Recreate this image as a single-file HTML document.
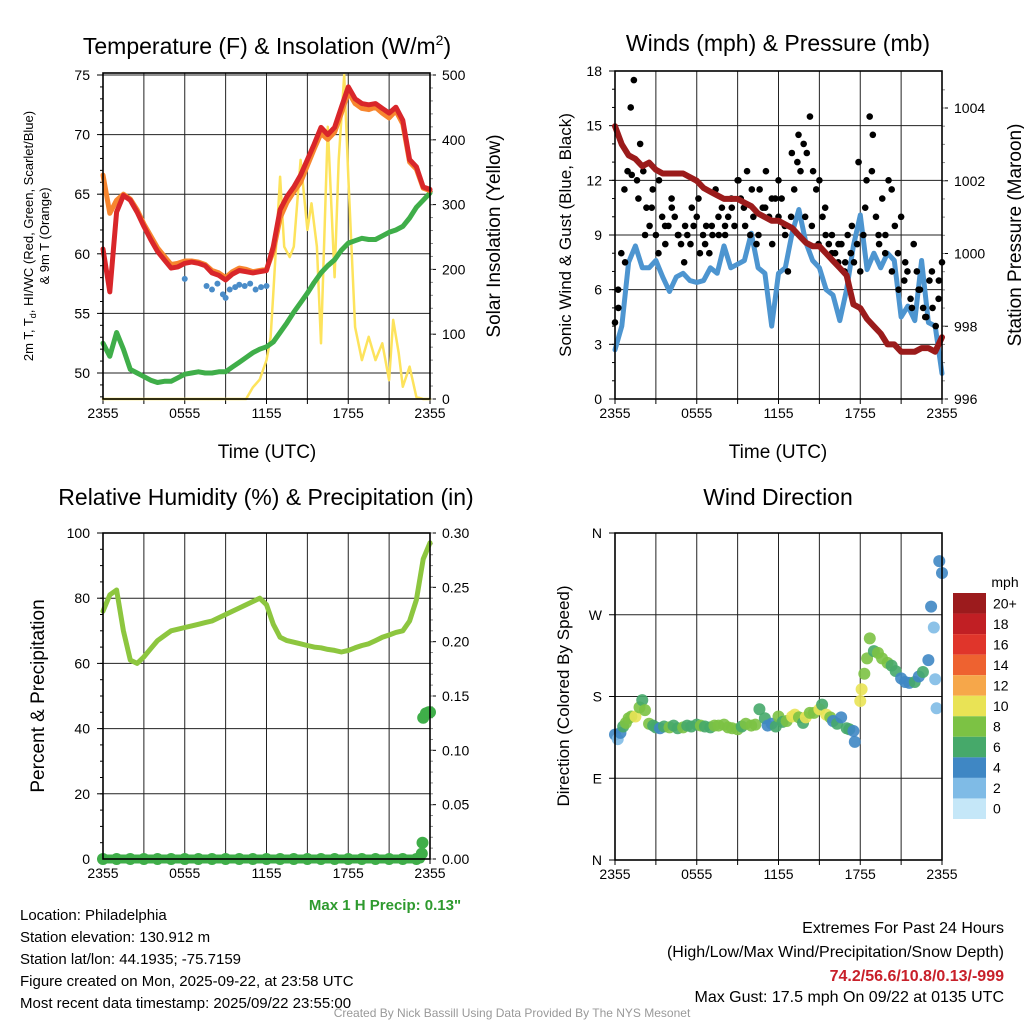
<!DOCTYPE html>
<html><head><meta charset="utf-8"><style>
html,body{margin:0;padding:0;background:#fff}
svg{display:block;font-family:"Liberation Sans",Arial,sans-serif}
</style></head><body>
<svg id="s" width="1024" height="1024" viewBox="0 0 1024 1024" xmlns="http://www.w3.org/2000/svg">
<rect width="1024" height="1024" fill="#fff"/>
<g id="g"></g>
<text x="267" y="54" font-size="23" text-anchor="middle">Temperature (F) &amp; Insolation (W/m<tspan dy="-9" font-size="14">2</tspan><tspan dy="9">)</tspan></text>
<text x="778" y="51" font-size="23" text-anchor="middle">Winds (mph) &amp; Pressure (mb)</text>
<text x="266" y="505" font-size="23" text-anchor="middle">Relative Humidity (%) &amp; Precipitation (in)</text>
<text x="778" y="505" font-size="23" text-anchor="middle">Wind Direction</text>
<text x="267" y="458" font-size="19" text-anchor="middle">Time (UTC)</text>
<text x="778" y="458" font-size="19" text-anchor="middle">Time (UTC)</text>
<text transform="translate(41,236) rotate(-90)" font-size="13" text-anchor="middle"><tspan x="0" dy="-8">2m T, T<tspan font-size="9" dy="3">d</tspan><tspan dy="-3">, HI/WC (Red, Green, Scarlet/Blue)</tspan></tspan><tspan x="0" dy="16">&amp; 9m T (Orange)</tspan></text>
<text transform="translate(500,236) rotate(-90)" font-size="19" text-anchor="middle">Solar Insolation (Yellow)</text>
<text transform="translate(571,235) rotate(-90)" font-size="17" text-anchor="middle">Sonic Wind &amp; Gust (Blue, Black)</text>
<text transform="translate(1021,235) rotate(-90)" font-size="19" text-anchor="middle">Station Pressure (Maroon)</text>
<text transform="translate(44,696) rotate(-90)" font-size="19" text-anchor="middle">Percent &amp; Precipitation</text>
<text transform="translate(569,696) rotate(-90)" font-size="17" text-anchor="middle">Direction (Colored By Speed)</text>
<text x="1005" y="587" font-size="14" text-anchor="middle">mph</text>
<text x="385" y="910" font-size="15" font-weight="bold" fill="#2e9a2e" text-anchor="middle">Max 1 H Precip: 0.13"</text>
<g font-size="15">
<text x="20" y="920">Location: Philadelphia</text>
<text x="20" y="942">Station elevation: 130.912 m</text>
<text x="20" y="964">Station lat/lon: 44.1935; -75.7159</text>
<text x="20" y="986">Figure created on Mon, 2025-09-22, at 23:58 UTC</text>
<text x="20" y="1008">Most recent data timestamp: 2025/09/22 23:55:00</text>
</g>
<g font-size="16" text-anchor="end">
<text x="1004" y="933">Extremes For Past 24 Hours</text>
<text x="1004" y="957">(High/Low/Max Wind/Precipitation/Snow Depth)</text>
<text x="1004" y="981" font-weight="bold" fill="#c8202a">74.2/56.6/10.8/0.13/-999</text>
<text x="1004" y="1002">Max Gust: 17.5 mph On 09/22 at 0135 UTC</text>
</g>
<text x="512" y="1017" font-size="12" fill="#999" text-anchor="middle">Created By Nick Bassill Using Data Provided By The NYS Mesonet</text>
</svg>
<script>
// ---- data (time in hours since 2355) ----
const xTickLabels = ["2355","0555","1155","1755","2355"];
const halfHours = [0,0.5,1,1.5,2,2.5,3,3.5,4,4.5,5,5.5,6,6.5,7,7.5,8,8.5,9,9.5,10,10.5,11,11.5,12,12.5,13,13.5,14,14.5,15,15.5,16,16.5,17,17.5,18,18.5,19,19.5,20,20.5,21,21.5,22,22.5,23,23.5,24];
const tempRed = [60.4,56.8,63.5,64.9,64.5,63.5,62.3,61.2,60.2,59.5,58.8,58.9,59.2,59.3,59.2,59.0,58.4,58.2,57.8,58.3,58.6,58.5,58.4,58.5,58.6,60.6,63.7,64.8,65.6,66.6,67.9,69.2,70.6,70.0,70.6,72.3,74.0,73.0,72.6,72.5,72.6,72.2,71.8,72.3,71.2,67.9,67.3,65.6,65.4];
const temp9m = [66.6,63.4,64.5,65.0,64.6,63.7,62.5,61.5,60.5,59.8,59.1,59.2,59.4,59.4,59.3,59.1,58.6,58.4,58.0,58.5,58.8,58.7,58.5,58.6,58.7,60.2,63.0,64.3,65.2,66.0,67.4,68.8,70.1,69.6,70.2,71.8,73.6,72.6,72.2,72.1,72.3,71.8,71.4,72.0,70.9,67.7,67.1,65.5,65.3];
const dewGreen = [52.5,51.4,53.4,52.0,50.3,50.0,49.7,49.4,49.2,49.3,49.3,49.6,49.9,50.0,50.1,50.0,50.0,50.1,50.1,50.5,50.9,51.3,51.7,52.0,52.2,52.6,53.4,54.2,55.1,55.9,56.7,57.6,58.4,59.0,59.5,60.3,60.9,61.1,61.3,61.2,61.2,61.5,61.8,62.0,62.3,63.0,63.9,64.5,65.1];
const hiwcTimes = [6,7.6,8,8.4,8.8,9.0,9.3,9.7,10,10.4,10.8,11.2,11.6,12];
const hiwcVals = [57.9,57.3,57.0,57.5,56.6,56.3,57.0,57.2,57.4,57.3,57.5,57.0,57.2,57.3];
const solarTimes = [0,10.5,11,11.5,12,12.3,12.5,13,13.3,13.7,14,14.5,15,15.3,15.7,16,16.5,17,17.3,17.7,18,18.5,19,19.5,20,20.5,21,21.3,21.7,22,22.5,23,23.5,24];
const solarVals = [0,0,18,30,60,95,163,343,235,219,235,369,261,302,235,86,420,188,369,500,343,111,60,96,60,86,29,122,71,19,50,3,0,0];
const windBlue = [2.7,4.0,7.5,8.4,7.2,7.2,7.6,6.7,5.9,6.7,6.9,6.5,6.4,6.5,7.2,6.9,8.4,7.2,7.4,7.6,9.1,7.2,6.9,4.0,6.9,7.2,9.1,10.4,8.6,7.6,7.2,6.0,5.7,4.3,6.0,8.4,10.1,7.1,8.0,7.2,8.0,7.6,4.5,5.1,4.3,7.6,4.2,4.0,1.4];
const pressure = [1003.5,1003.0,1002.7,1002.6,1002.4,1002.5,1002.3,1002.2,1002.2,1002.2,1002.2,1002.1,1002.0,1001.8,1001.7,1001.6,1001.5,1001.5,1001.5,1001.4,1001.3,1001.1,1001.0,1000.9,1000.9,1000.8,1000.7,1000.5,1000.3,1000.2,1000.2,1000.0,999.8,999.6,999.4,998.6,998.5,998.2,998.0,997.8,997.5,997.5,997.3,997.3,997.3,997.4,997.4,997.3,997.7];
const gusts = [4.2,6.0,8.0,11.5,12.5,16.0,17.5,12.0,14.0,12.5,10.5,9.5,11.5,9.0,12.0,10.0,8.5,9.5,11.0,10.0,9.0,8.5,7.5,9.0,8.5,9.5,10.0,8.0,9.0,9.5,8.0,9.0,11.5,9.0,10.5,9.5,10.0,11.0,9.5,12.0,11.0,10.5,12.5,9.0,10.0,8.5,11.5,10.5,12.5,10.0,8.5,11.0,12.0,11.0,9.5,7.0,10.0,11.5,13.0,12.5,14.0,13.5,15.5,12.5,11.5,12.0,10.0,9.0,8.5,9.0,8.0,7.5,8.5,7.0,9.0,8.0,7.5,8.5,7.0,9.0,12.0,15.5,14.5,10.0,8.5,11.0,9.0,12.0,11.5,9.5,8.0,10.0,6.5,7.0,5.5,8.5,7.0,6.0,5.0,4.5,6.5,5.0,4.0,6.5,7.5];
const gusts2 = [5.0,7.5,12.3,11.0,9.0,10.5,8.0,9.5,10.5,9.0,9.5,10.5,11.0,8.5,9.5,10.0,9.0,10.5,12.0,9.5,11.5,9.0,10.5,11.0,10.0,9.0,13.5,14.5,10.0,9.5,8.5,10.5,8.0,8.5,7.5,9.5,13.0,10.5,12.5,9.0,8.0,7.0,6.0,7.5,5.0,6.0,4.5,7.0,5.5];
const rhVals = [76,81,82.5,70,61,60,62,64.5,67,68.5,70,70.5,71,71.5,72,72.5,73,74,75,76,77,78,79,80,78,72,68,67,66.5,66,65.5,65,64.8,64.3,64,63.5,64,64.8,65.5,66,67,68,68.7,69.5,70,73,79.5,92,97];
const precipTimes = [0,1,2,3,4,5,6,7,8,9,10,11,12,13,14,15,16,17,18,19,20,21,22,23,23.4,23.45,23.5,23.7,23.9,24];
const precipVals = [0,0,0,0,0,0,0,0,0,0,0,0,0,0,0,0,0,0,0,0,0,0,0,0,0.005,0.015,0.13,0.134,0.135,0.135];
const dirTimes = [0,0.2,0.4,0.6,0.8,1,1.2,1.5,1.8,2,2.2,2.5,2.8,3,3.3,3.6,4,4.3,4.6,5,5.3,5.6,6,6.3,6.6,7,7.3,7.6,8,8.3,8.6,9,9.3,9.6,10,10.3,10.6,11,11.2,11.5,11.8,12,12.3,12.6,13,13.2,13.5,13.8,14,14.3,14.6,15,15.2,15.5,15.8,16,16.3,16.6,17,17.2,17.5,17.6,18,18.1,18.3,18.5,18.7,19,19.3,19.6,20,20.3,20.6,21,21.3,21.6,22,22.3,22.6,23,23.2,23.4,23.5,23.6,23.8,24];
const dirVals = [138,133,140,147,151,156,158,158,168,176,165,150,148,146,145,147,146,148,145,146,148,147,149,148,147,146,148,148,149,146,145,144,147,150,148,149,166,156,148,150,147,158,152,153,158,160,157,151,157,162,162,166,171,160,157,153,150,157,145,144,142,130,175,188,205,222,244,230,228,222,217,214,208,200,196,195,196,202,207,220,279,256,199,167,329,316];
const dirSpeeds = [3,2,4,6,7,8,8,9,7,6,8,7,6,6,4,6,7,6,6,7,6,6,6,7,6,6,7,8,7,7,8,8,6,7,8,8,6,6,4,4,6,7,5,8,9,10,8,6,9,7,8,10,6,9,7,4,6,4,6,6,3,4,9,10,8,7,7,6,7,8,7,6,6,4,4,3,6,4,5,3,4,2,2,2,3,3];
const cbLabels = ["20+","18","16","14","12","10","8","6","4","2","0"];
const cbColors = ["#9c1b1d","#c11f24","#e0352b","#ee6230","#f6a74a","#e9e355","#7cc244","#46a96a","#3f87c4","#7fbbe6","#c5e7f8"];

const NS="http://www.w3.org/2000/svg";
const G=document.getElementById('g');
function el(tag,attrs,parent){const e=document.createElementNS(NS,tag);for(const k in attrs)e.setAttribute(k,attrs[k]);(parent||G).appendChild(e);return e;}
function txt(x,y,s,size,anchor,parent){const t=el('text',{x:x,y:y,'font-size':size,'text-anchor':anchor},parent);t.textContent=s;return t;}

function panel(x0,x1,y0,y1){
  const P={x0,x1,y0,y1};
  P.x=t=>x0+(x1-x0)*t/24;
  return P;
}
function lin(v0,v1,p0,p1){return v=>p0+(p1-p0)*(v-v0)/(v1-v0);}
function frame(P,name){
  const g=el('g',{});
  
  
  for(let i=1;i<8;i++){const x=P.x(i*3);el('line',{x1:x,x2:x,y1:P.y0,y2:P.y1,stroke:'#222','stroke-width':1},g);}
  for(let i=0;i<5;i++){const x=P.x(i*6);const t=txt(x,P.y1+19,xTickLabels[i],14,'middle',g);}
  for(let i=0;i<=8;i++){const x=P.x(i*3);el('line',{x1:x,x2:x,y1:P.y1,y2:P.y1+5,stroke:'#000'},g);}
  return g;
}
function border(P,name){
  const r=el('rect',{x:P.x0,y:P.y0,width:P.x1-P.x0,height:P.y1-P.y0,fill:'none',stroke:'#000','stroke-width':1.6});
  
  
}
function yAxisL(P,ticks,labels,sc,minor,g){
  ticks.forEach((v,i)=>{const y=sc(v);el('line',{x1:P.x0,x2:P.x1,y1:y,y2:y,stroke:'#222'},g);el('line',{x1:P.x0-6,x2:P.x0,y1:y,y2:y,stroke:'#000'},g);txt(P.x0-13,y+5,labels[i],14,'end',g);});
  minor.forEach(v=>{const y=sc(v);el('line',{x1:P.x0-3,x2:P.x0,y1:y,y2:y,stroke:'#000'},g);});
}
function yAxisR(P,ticks,labels,sc,minor,g,gridToo){
  ticks.forEach((v,i)=>{const y=sc(v);if(gridToo)el('line',{x1:P.x0,x2:P.x1,y1:y,y2:y,stroke:'#222'},g);el('line',{x1:P.x1,x2:P.x1+6,y1:y,y2:y,stroke:'#000'},g);txt(P.x1+12,y+5,labels[i],14,'start',g);});
  minor.forEach(v=>{const y=sc(v);el('line',{x1:P.x1,x2:P.x1+3,y1:y,y2:y,stroke:'#888'},g);});
}
function path(P,ts,vs,sc,color,w,name){
  let d='';ts.forEach((t,i)=>{if(vs[i]==null)return;d+=(d?'L':'M')+P.x(t).toFixed(1)+','+sc(vs[i]).toFixed(1);});
  const p=el('path',{d:d,fill:'none',stroke:color,'stroke-width':w,'stroke-linejoin':'round','stroke-linecap':'round'});
  
  
  return p;
}
function dots(P,ts,vs,sc,color,r,name){
  const g=el('g',{fill:color});
  
  
  ts.forEach((t,i)=>{el('circle',{cx:P.x(t),cy:sc(vs[i]),r:r},g);});
  return g;
}
function range(a,b,s){const r=[];for(let v=a;v<=b+1e-9;v+=s)r.push(+v.toFixed(4));return r;}

// ---- Panel 1: temperature ----
const P1=panel(103,430,73,399);
const yT=lin(50,75,373,75), yS=lin(0,500,399,75);
let g1=frame(P1,'temperature');
yAxisL(P1,[50,55,60,65,70,75],["50","55","60","65","70","75"],yT,range(48,75,1),g1);
yAxisR(P1,[0,100,200,300,400,500],["0","100","200","300","400","500"],yS,range(0,500,20),g1,false);
path(P1,solarTimes,solarVals,yS,'#fde35c',2.5,'solar-insolation-line');
path(P1,halfHours,dewGreen,yT,'#3fae49',5,'dewpoint-line');
path(P1,halfHours,temp9m,yT,'#f7862f',5,'temp-9m-line');
path(P1,halfHours,tempRed,yT,'#d9262a',5,'temp-2m-line');
dots(P1,hiwcTimes,hiwcVals,yT,'#4a8cc8',3,'heat-index-windchill-dots');
border(P1,'temperature');

// ---- Panel 2: winds ----
const P2=panel(615,942,71,399);
const yW=lin(0,18,399,71), yP=lin(996,1004,399,108);
let g2=frame(P2,'winds');
yAxisL(P2,[0,3,6,9,12,15,18],["0","3","6","9","12","15","18"],yW,range(0,18,1),g2);
yAxisR(P2,[996,998,1000,1002,1004],["996","998","1000","1002","1004"],yP,range(996,1004.8,0.5),g2,false);
const gT=gusts.map((v,i)=>i*24/(gusts.length-1));
const gT2=gusts2.map((v,i)=>0.25+i*23.5/(gusts2.length-1));
path(P2,halfHours,windBlue,yW,'#4d95d0',5,'sustained-wind-line');
dots(P2,gT,gusts,yW,'#000',3.3,'gust-dots');
dots(P2,gT2,gusts2,yW,'#000',3.3,'gust-dots-2');
path(P2,halfHours,pressure,yP,'#9b1b1b',6,'pressure-line');
border(P2,'winds');

// ---- Panel 3: RH ----
const P3=panel(103,430,533,859);
const yR=lin(0,100,859,533), yPr=lin(0,0.30,859,533);
let g3=frame(P3,'rh');
yAxisL(P3,[0,20,40,60,80,100],["0","20","40","60","80","100"],yR,range(0,100,5),g3);
yAxisR(P3,[0,0.05,0.1,0.15,0.2,0.25,0.3],["0.00","0.05","0.10","0.15","0.20","0.25","0.30"],yPr,range(0,0.3,0.01),g3,false);
path(P3,halfHours,rhVals,yR,'#8dc63f',5,'relative-humidity-line');
path(P3,[0,23.3],[0,0],yPr,'#3fae49',9,'precip-zero-line');
dots(P3,precipTimes,precipVals,yPr,'#3fae49',6,'precip-dots');
border(P3,'rh');

// ---- Panel 4: wind direction ----
const P4=panel(615,942,533,860);
const yD=lin(0,360,860,533);
let g4=frame(P4,'wind-direction');
yAxisL(P4,[0,90,180,270,360],["N","E","S","W","N"],yD,[],g4);
const dg=el('g',{});


dirTimes.forEach((t,i)=>{const ci=Math.max(0,Math.min(10,10-Math.round(dirSpeeds[i]/2)));el('circle',{cx:P4.x(t),cy:yD(dirVals[i]),r:6,fill:cbColors[ci],'fill-opacity':0.9},dg);});
border(P4,'wind-direction');

// colorbar
const cb=el('g',{});


const cbH=(819-593)/cbLabels.length;
cbLabels.forEach((l,i)=>{el('rect',{x:953,y:593+i*cbH,width:33,height:cbH,fill:cbColors[i]},cb);txt(993,593+i*cbH+cbH/2+5,l,14,'start',cb);});
</script>
</body></html>
